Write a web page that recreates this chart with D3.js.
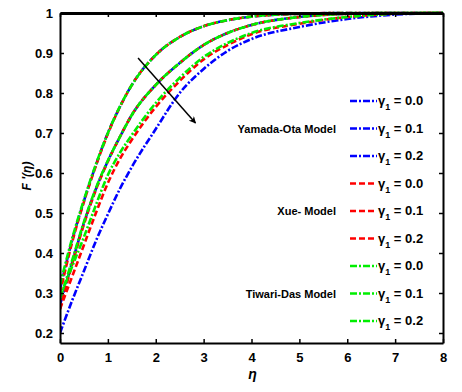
<!DOCTYPE html>
<html>
<head>
<meta charset="utf-8">
<script src="https://cdn.jsdelivr.net/npm/d3@7"></script>
<style>
  body { margin: 0; background: #fff; }
  svg text { font-family: "Liberation Sans", Arial, sans-serif; font-weight: bold; }
</style>
</head>
<body>
<div class="canvas"></div>
<script>
// eta grid shared by every curve
const eta = [0, 0.25, 0.5, 0.75, 1, 1.25, 1.5, 2, 2.5, 3, 3.5, 4, 5, 6, 7, 8];

// Yamada-Ota model, gamma1 = 0.0, 0.1, 0.2
const yoG0 = [0.31, 0.43, 0.53, 0.62, 0.70, 0.765, 0.82, 0.895, 0.94, 0.967, 0.982, 0.991, 0.998, 1, 1, 1];
const yoG1 = [0.27, 0.375, 0.475, 0.56, 0.63, 0.69, 0.745, 0.82, 0.875, 0.92, 0.95, 0.97, 0.99, 0.998, 1, 1];
const yoG2 = [0.20, 0.28, 0.355, 0.43, 0.497, 0.56, 0.615, 0.71, 0.80, 0.86, 0.905, 0.935, 0.965, 0.985, 0.996, 1];
// Xue model
const xueG0 = [0.30, 0.425, 0.528, 0.618, 0.698, 0.765, 0.82, 0.895, 0.94, 0.967, 0.982, 0.991, 0.998, 1, 1, 1];
const xueG1 = [0.26, 0.37, 0.472, 0.558, 0.629, 0.69, 0.745, 0.82, 0.875, 0.92, 0.95, 0.97, 0.99, 0.998, 1, 1];
const xueG2 = [0.26, 0.34, 0.42, 0.50, 0.575, 0.635, 0.683, 0.765, 0.83, 0.884, 0.92, 0.947, 0.973, 0.99, 0.998, 1];
// Tiwari-Das model
const tdG0 = [0.32, 0.435, 0.533, 0.622, 0.70, 0.766, 0.82, 0.895, 0.94, 0.967, 0.982, 0.991, 0.998, 1, 1, 1];
const tdG1 = [0.285, 0.38, 0.478, 0.562, 0.631, 0.69, 0.745, 0.82, 0.875, 0.92, 0.95, 0.97, 0.99, 0.998, 1, 1];
const tdG2 = [0.29, 0.365, 0.44, 0.52, 0.595, 0.65, 0.695, 0.775, 0.838, 0.89, 0.925, 0.95, 0.975, 0.99, 0.998, 1];

const gammaLabels = ['0.0', '0.1', '0.2'];
const models = ['Yamada-Ota Model', 'Xue- Model', 'Tiwari-Das Model'];
const xTicks = [0, 1, 2, 3, 4, 5, 6, 7, 8];
const yTicks = [0.2, 0.3, 0.4, 0.5, 0.6, 0.7, 0.8, 0.9, 1];

// arrow annotation, in data units [eta, F']
const arrowFrom = [1.63, 0.8875];
const arrowTo = [2.83, 0.725];

const width = 462, height = 392;
const margin = { left: 60, right: 19, top: 13, bottom: 49 };

const svg = d3.select('.canvas')
    .append('svg')
    .attr('width', width)
    .attr('height', height);

const x = d3.scaleLinear().domain([0, 8]).range([margin.left, width - margin.right]);
const y = d3.scaleLinear().domain([0.175, 1]).range([height - margin.bottom, margin.top]);

const styles = [
    { color: '#0000ff', dash: '7,2,2,2', data: [yoG0, yoG1, yoG2] },
    { color: '#ff0000', dash: '6,3', data: [xueG0, xueG1, xueG2] },
    { color: '#00ee00', dash: '7,2,2,2', data: [tdG0, tdG1, tdG2] }
];

const line = d3.line()
    .x((d, i) => x(eta[i]))
    .y(d => y(d))
    .curve(d3.curveMonotoneX);

svg.append('clipPath').attr('id', 'clip')
    .append('rect')
    .attr('x', x(0)).attr('y', y(1) - 2)
    .attr('width', x(8) - x(0)).attr('height', y(0.175) - y(1) + 2);

const curves = svg.append('g').attr('clip-path', 'url(#clip)');
styles.forEach(s => {
    curves.selectAll(null)
        .data(s.data)
        .enter()
        .append('path')
            .attr('d', line)
            .attr('fill', 'none')
            .attr('stroke', s.color)
            .attr('stroke-width', 2.6)
            .attr('stroke-dasharray', s.dash);
});

//axes, ticks pointing inward on all four sides
const axBottom = svg.append('g')
    .attr('transform', `translate(0, ${y(0.175)})`)
    .call(d3.axisBottom(x).tickValues(xTicks).tickSizeInner(-4).tickSizeOuter(0).tickPadding(10).tickFormat(d3.format('d')));
const axTop = svg.append('g')
    .attr('transform', `translate(0, ${y(1)})`)
    .call(d3.axisTop(x).tickValues(xTicks).tickSizeInner(-4).tickSizeOuter(0).tickFormat(''));
const axLeft = svg.append('g')
    .attr('transform', `translate(${x(0)}, 0)`)
    .call(d3.axisLeft(y).tickValues(yTicks).tickSizeInner(-4).tickSizeOuter(0).tickPadding(7).tickFormat(d => d === 1 ? '1' : d3.format('.1f')(d)));
const axRight = svg.append('g')
    .attr('transform', `translate(${x(8)}, 0)`)
    .call(d3.axisRight(y).tickValues(yTicks).tickSizeInner(-4).tickSizeOuter(0).tickFormat(''));

[axBottom, axTop, axLeft, axRight].forEach(g => {
    g.select('.domain').attr('stroke', '#000').attr('stroke-width', 2);
    g.selectAll('.tick line').attr('stroke', '#000').attr('stroke-width', 1.5);
    g.selectAll('text').attr('font-size', 13).attr('fill', '#000')
        .style('font-family', '"Liberation Sans", Arial, sans-serif').style('font-weight', 'bold');
});
axTop.select('.domain').attr('stroke-width', 3);

//axis labels
svg.append('text')
    .attr('x', (x(0) + x(8)) / 2 + 1)
    .attr('y', 379)
    .attr('text-anchor', 'middle')
    .attr('font-size', 14)
    .attr('font-style', 'italic')
    .text('η');

svg.append('text')
    .attr('transform', `translate(31, ${y(0.6) + 3}) rotate(-90)`)
    .attr('text-anchor', 'middle')
    .attr('font-size', 12)
    .attr('font-style', 'italic')
    .text("F '(η)");

//arrow
svg.append('defs').append('marker')
    .attr('id', 'head')
    .attr('viewBox', '0 0 10 10')
    .attr('refX', 9).attr('refY', 5)
    .attr('markerWidth', 7).attr('markerHeight', 7)
    .attr('markerUnits', 'userSpaceOnUse')
    .attr('orient', 'auto')
    .append('path')
    .attr('d', 'M0,0 L10,5 L0,10 L3,5 Z')
    .attr('fill', '#000');

svg.append('line')
    .attr('x1', x(arrowFrom[0])).attr('y1', y(arrowFrom[1]))
    .attr('x2', x(arrowTo[0])).attr('y2', y(arrowTo[1]))
    .attr('stroke', '#000')
    .attr('stroke-width', 1.5)
    .attr('marker-end', 'url(#head)');

//legend
const legendGroup = svg.append('g');
const rowH = 27.5, legendTop = 101;
styles.forEach((s, m) => {
    gammaLabels.forEach((g, k) => {
        const cy = legendTop + (m * 3 + k) * rowH;
        legendGroup.append('line')
            .attr('x1', 350).attr('x2', 377)
            .attr('y1', cy).attr('y2', cy)
            .attr('stroke', s.color)
            .attr('stroke-width', 2.6)
            .attr('stroke-dasharray', s.dash);
        const t = legendGroup.append('text')
            .attr('x', 378).attr('y', cy + 4)
            .attr('font-size', 13);
        t.append('tspan').text('γ');
        t.append('tspan').attr('font-size', 9).attr('dy', 5).text('1');
        t.append('tspan').attr('dy', -5).text(' = ' + g);
    });
    legendGroup.append('text')
        .attr('x', 336)
        .attr('y', legendTop + (m * 3 + 1) * rowH + 4)
        .attr('text-anchor', 'end')
        .attr('font-size', 11)
        .text(models[m]);
});
</script>
</body>
</html>
